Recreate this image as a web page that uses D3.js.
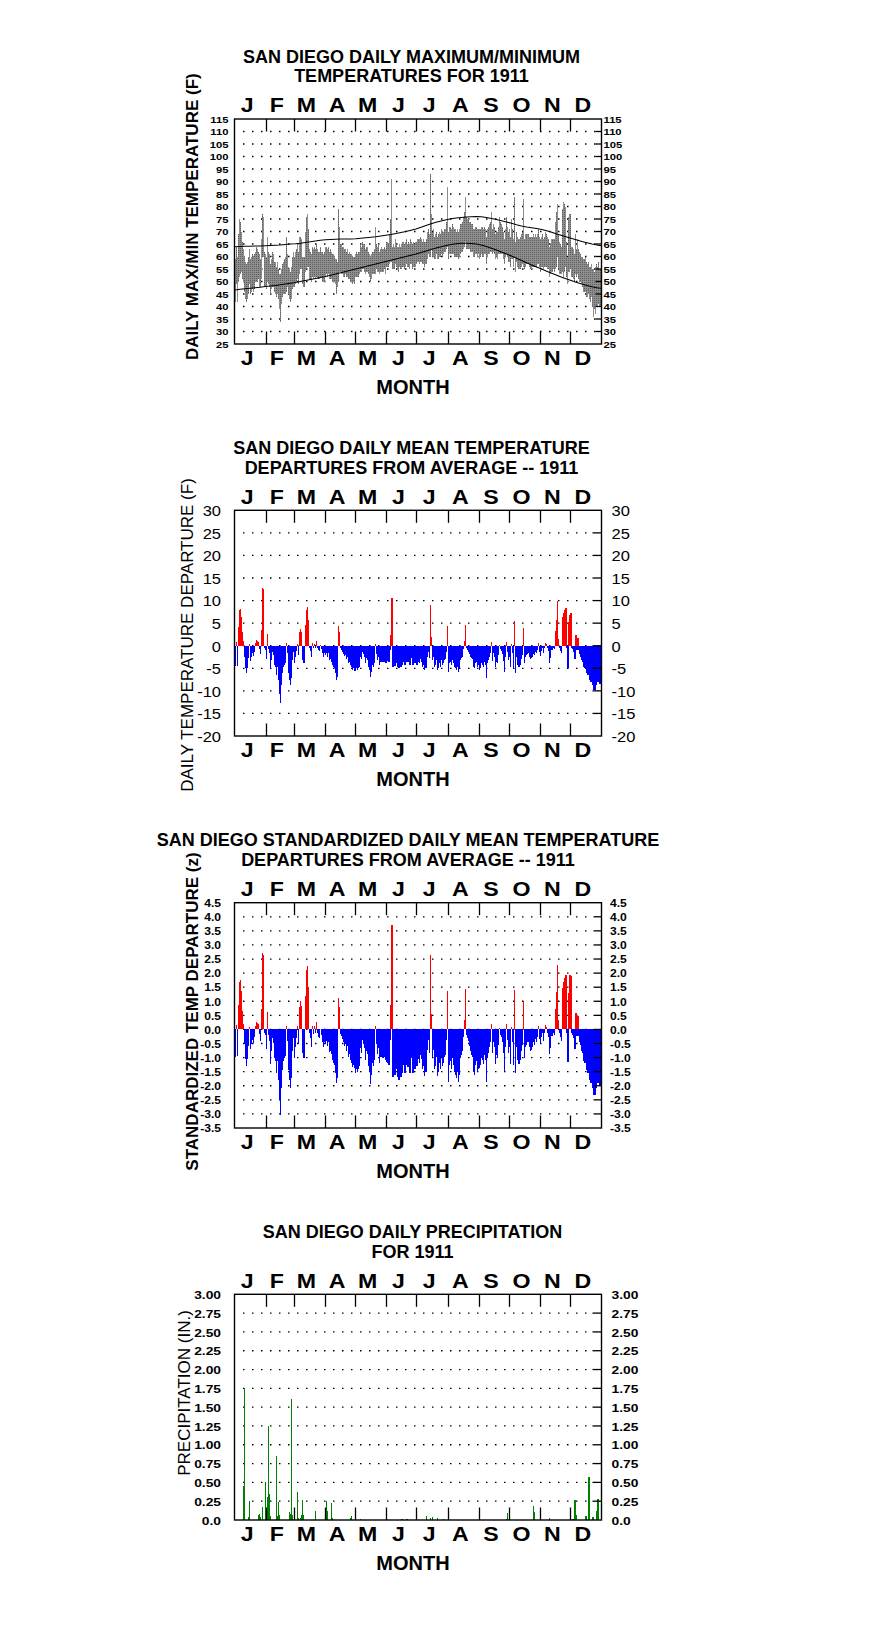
<!DOCTYPE html>
<html><head><meta charset="utf-8">
<script src="https://cdn.jsdelivr.net/npm/d3@7"></script>
<style>body{margin:0;background:#fff}svg{display:block}</style>
</head><body>
<svg id="c" width="876" height="1634"></svg>
<script>
// ---------------- DATA ----------------
const months = ["J","F","M","A","M","J","J","A","S","O","N","D"];
const monthLengths = [31,28,31,30,31,30,31,31,30,31,30,31];

// Daily max / min temperature (F), 1911
const tmax = [
59,64,60,69,75,74,70,66,63,60,58,57,58,60,63,59,60,61,60,61,62,64,63,62,61,59,67,77,76,62,61,
60,68,62,61,57,59,62,61,58,58,56,58,55,53,53,55,57,58,59,60,68,61,56,55,54,56,60,62,
60,62,63,65,62,68,68,67,60,60,60,70,76,77,71,63,62,61,64,63,64,63,65,63,62,62,64,62,62,61,62,
64,64,63,64,62,63,62,61,61,60,59,59,58,79,72,65,65,64,64,63,63,62,63,61,62,61,61,60,60,60,
61,62,61,62,62,65,64,66,65,65,63,64,64,62,61,60,61,62,62,63,72,65,64,65,62,63,64,63,63,64,63,
66,66,65,69,75,91,64,65,64,67,65,64,64,65,64,65,66,66,65,66,67,65,66,65,67,66,65,66,65,66,
66,67,67,68,67,66,67,66,66,67,70,71,69,93,77,70,71,68,69,70,68,69,70,69,71,70,70,71,71,74,88,
70,72,72,71,73,72,71,71,70,71,70,71,73,73,74,76,78,84,76,75,75,74,74,73,73,71,71,72,72,71,71,
71,71,72,72,71,72,71,68,71,72,73,74,78,71,73,72,69,70,70,72,76,74,73,72,70,67,71,76,72,70,
71,68,75,71,67,84,66,70,68,67,67,68,69,70,83,67,69,69,69,69,68,68,68,68,69,68,69,68,69,71,68,
67,68,69,67,68,70,69,68,67,64,65,67,67,67,67,74,78,81,69,66,65,64,79,82,81,80,66,60,76,77,
77,64,64,63,61,69,63,67,63,62,61,60,60,59,59,60,58,57,58,56,56,57,55,55,54,56,57,56,58,55,55];
const tmin = [
42,49,42,50,52,53,54,51,50,46,43,42,43,45,49,45,46,47,46,47,50,50,50,51,48,48,51,60,60,48,48,
47,50,49,48,45,47,48,48,46,45,44,45,43,39,34,41,44,45,45,45,46,48,45,43,42,43,47,48,
48,49,50,51,49,53,55,55,49,48,48,54,55,56,56,51,51,50,52,51,52,51,52,51,51,51,52,52,50,50,50,
52,53,52,53,51,51,51,50,50,50,49,45,48,50,54,54,53,53,52,52,53,52,52,51,51,50,50,49,50,49,
52,52,52,52,53,54,54,55,55,54,53,54,54,53,52,50,51,53,53,53,53,55,54,54,53,54,54,54,54,55,53,
56,56,56,57,58,58,55,55,55,57,56,55,54,56,55,55,56,56,55,56,57,56,56,55,57,57,55,56,56,56,
57,58,57,58,58,57,57,56,57,57,59,61,60,60,63,60,60,59,59,61,59,59,60,60,61,60,61,62,62,63,64,
59,61,61,61,61,61,60,60,60,60,59,60,61,62,62,63,64,66,63,63,63,63,62,62,62,60,60,61,61,60,61,
59,60,61,60,60,61,61,57,60,61,61,62,62,61,62,61,59,60,59,61,61,61,61,61,59,57,60,61,60,58,
58,56,59,59,56,60,54,58,56,55,55,55,56,57,56,55,56,57,57,57,56,55,55,56,56,56,56,56,57,57,56,
54,56,56,55,56,56,56,55,55,52,53,54,54,55,54,55,56,60,55,53,53,53,54,52,54,56,52,49,54,54,
55,52,52,51,50,53,52,53,51,50,50,49,48,46,46,46,44,44,45,43,42,44,40,36,39,37,40,40,41,40,40];

// Normal max / min (F), read every 5 days (last point = Dec 31)
const normMax = [63.9,64.0,64.1,64.1,64.2,64.2,64.3,64.4,64.5,64.6,64.8,65.0,65.1,65.3,65.6,65.9,66.2,66.5,66.7,66.8,
66.9,67.0,67.0,67.0,67.1,67.3,67.5,67.7,67.9,68.2,68.5,68.8,69.2,69.6,70.0,70.5,71.0,71.7,72.4,73.1,
73.7,74.2,74.7,75.1,75.4,75.6,75.8,75.9,76.0,75.9,75.6,75.2,74.8,74.3,73.8,73.3,72.7,72.2,71.8,71.5,
71.2,70.8,70.3,69.7,69.0,68.4,67.8,67.2,66.6,66.0,65.5,65.0,64.6,64.3];
const normMin = [46.6,46.9,47.1,47.3,47.5,47.7,48.0,48.2,48.4,48.7,49.0,49.3,49.6,50.0,50.4,50.8,51.2,51.6,52.0,52.5,
53.0,53.5,54.0,54.5,55.0,55.5,56.0,56.5,57.0,57.5,58.0,58.5,59.0,59.5,60.0,60.5,61.0,61.6,62.2,62.8,
63.4,63.9,64.4,64.8,65.1,65.3,65.3,65.2,65.0,64.6,64.0,63.3,62.6,61.8,61.0,60.2,59.3,58.4,57.5,56.6,
55.8,55.0,54.1,53.3,52.5,51.7,51.0,50.3,49.6,49.0,48.4,47.9,47.5,47.3];
const normDays = [0,5,10,15,20,25,30,35,40,45,50,55,60,65,70,75,80,85,90,95,100,105,110,115,120,125,130,135,140,145,
150,155,160,165,170,175,180,185,190,195,200,205,210,215,220,225,230,235,240,245,250,255,260,265,270,275,280,285,290,295,
300,305,310,315,320,325,330,335,340,345,350,355,360,364];

// Daily mean temperature departure (F)
const depF = [
-4.6,0.8,-4.4,4.1,7.9,8.2,6.4,3.0,1.0,-2.4,-5.0,-6.1,-5.0,-2.8,0.4,-3.3,-2.4,-1.7,-2.3,-1.3,0.5,1.3,1.1,0.9,-0.8,-1.9,3.5,12.8,12.5,-0.6,-1.0,
-3.0,2.6,-0.8,-1.7,-5.2,-3.2,-1.3,-2.0,-4.3,-4.7,-6.5,-4.7,-7.6,-10.6,-12.8,-8.7,-6.1,-4.7,-4.3,-3.9,0.5,-1.7,-6.1,-7.6,-8.7,-7.2,-3.2,-1.3,
-3.9,-2.4,-1.1,0.4,-2.0,3.0,3.8,3.1,-3.2,-3.8,-3.9,4.5,8.0,8.6,5.7,-0.5,-1.2,-2.4,0.5,-0.6,0.4,-0.5,1.0,-0.5,-1.0,-1.2,0.1,-0.8,-1.7,-2.4,-1.7,
-2.1,-1.6,-2.4,-1.7,-3.2,-3.0,-3.5,-4.3,-4.7,-5.0,-6.1,-7.6,-6.9,4.4,3.1,-0.6,-1.0,-1.3,-1.8,-2.3,-2.1,-3.0,-2.4,-3.9,-3.5,-4.3,-4.7,-5.4,-5.0,-5.5,
-5.6,-5.0,-5.4,-5.0,-4.7,-2.4,-3.0,-1.3,-1.8,-2.4,-3.9,-2.8,-3.2,-4.7,-5.4,-6.9,-5.8,-4.3,-4.7,-3.9,0.4,-1.8,-3.2,-2.4,-4.3,-3.5,-3.2,-3.7,-3.5,-2.8,-3.9,
-3.2,-3.3,-3.5,-1.0,2.4,10.5,-4.7,-4.3,-4.5,-2.4,-3.9,-4.7,-5.0,-3.9,-4.7,-4.3,-3.5,-3.2,-4.3,-3.5,-2.4,-3.7,-3.2,-4.3,-2.4,-2.8,-4.3,-3.2,-3.9,-3.2,
-4.3,-3.5,-3.9,-3.0,-3.5,-4.7,-4.3,-5.4,-5.0,-5.0,-2.4,-1.3,-2.8,9.0,2.0,-3.2,-2.4,-4.7,-4.3,-3.2,-5.4,-5.0,-3.9,-4.7,-3.2,-4.3,-3.9,-3.2,-3.0,-1.3,4.4,
-5.8,-3.9,-3.5,-4.3,-3.2,-3.9,-4.7,-5.0,-5.4,-4.7,-5.8,-5.0,-3.2,-2.8,-2.4,-0.8,1.0,4.6,-0.6,-1.0,-1.3,-1.8,-2.4,-2.8,-3.0,-4.7,-5.0,-3.9,-3.5,-4.7,-4.3,
-5.4,-5.0,-3.9,-4.3,-4.7,-3.5,-4.3,-7.2,-3.9,-3.2,-2.4,-1.7,0.8,-3.3,-1.7,-2.4,-4.7,-3.5,-3.9,-2.1,0.2,-0.8,-1.1,-1.8,-3.3,-5.8,-2.4,0.8,-1.5,-3.2,
-2.4,-4.7,0.4,-1.7,-4.9,5.5,-6.1,-2.4,-4.3,-4.7,-4.7,-4.3,-3.0,-2.1,3.9,-3.9,-2.4,-2.1,-1.8,-1.7,-2.4,-3.0,-2.8,-2.4,-1.8,-2.1,-1.3,-1.7,-1.0,0.5,-1.3,
-2.3,-1.1,-0.6,-1.7,-0.6,0.7,0.4,-0.6,-1.1,-3.8,-2.8,-1.0,-1.0,-0.6,-0.8,3.2,5.7,9.8,1.5,-0.6,-1.1,-1.7,6.3,7.2,7.9,8.4,-0.6,-5.0,5.3,6.8,
7.2,-0.6,-0.8,-1.3,-3.0,2.4,-1.0,1.8,-1.0,-1.8,-2.4,-3.2,-3.5,-4.7,-5.0,-4.3,-6.1,-6.5,-5.4,-7.6,-8.0,-6.1,-8.7,-9.8,-9.8,-8.7,-7.6,-8.0,-6.9,-8.4,-8.2];

// Standardized daily mean temperature departure (z)
const depZ = [
-0.98,0.17,-0.94,0.87,1.68,1.74,1.36,0.64,0.21,-0.51,-1.06,-1.30,-1.06,-0.60,0.09,-0.70,-0.51,-0.36,-0.49,-0.28,0.11,0.28,0.23,0.19,-0.17,-0.40,0.74,2.72,2.66,-0.13,-0.21,
-0.71,0.62,-0.19,-0.40,-1.24,-0.76,-0.31,-0.48,-1.02,-1.12,-1.55,-1.12,-1.81,-2.52,-3.05,-2.07,-1.45,-1.12,-1.02,-0.93,0.12,-0.40,-1.45,-1.81,-2.07,-1.71,-0.76,-0.31,
-1.03,-0.63,-0.29,0.11,-0.53,0.79,1.00,0.82,-0.84,-1.00,-1.03,1.18,2.10,2.26,1.50,-0.13,-0.32,-0.63,0.13,-0.16,0.11,-0.13,0.26,-0.13,-0.26,-0.32,0.03,-0.21,-0.45,-0.63,-0.45,
-0.53,-0.40,-0.60,-0.43,-0.80,-0.75,-0.88,-1.08,-1.18,-1.25,-1.53,-1.90,-1.73,1.10,0.78,-0.15,-0.25,-0.33,-0.45,-0.58,-0.53,-0.75,-0.60,-0.98,-0.88,-1.08,-1.18,-1.35,-1.25,-1.38,
-1.56,-1.39,-1.50,-1.39,-1.31,-0.67,-0.83,-0.36,-0.50,-0.67,-1.08,-0.78,-0.89,-1.31,-1.50,-1.92,-1.61,-1.19,-1.31,-1.08,0.11,-0.50,-0.89,-0.67,-1.19,-0.97,-0.89,-1.03,-0.97,-0.78,-1.08,
-1.14,-1.18,-1.25,-0.36,0.86,3.72,-1.68,-1.54,-1.61,-0.86,-1.39,-1.68,-1.79,-1.39,-1.68,-1.54,-1.25,-1.14,-1.54,-1.25,-0.86,-1.32,-1.14,-1.54,-0.86,-1.00,-1.54,-1.14,-1.39,-1.14,
-1.30,-1.06,-1.18,-0.91,-1.06,-1.42,-1.30,-1.64,-1.52,-1.52,-0.73,-0.39,-0.85,2.65,0.55,-0.97,-0.73,-1.42,-1.30,-0.97,-1.64,-1.52,-1.18,-1.42,-0.97,-1.30,-1.18,-0.97,-0.91,-0.39,1.38,
-1.87,-1.26,-1.13,-1.39,-1.03,-1.26,-1.52,-1.61,-1.74,-1.52,-1.87,-1.61,-1.03,-0.90,-0.77,-0.26,0.32,1.45,-0.19,-0.32,-0.42,-0.58,-0.77,-0.90,-0.97,-1.52,-1.61,-1.26,-1.13,-1.52,-1.39,
-1.38,-1.28,-1.00,-1.10,-1.21,-0.90,-1.10,-1.85,-1.00,-0.82,-0.62,-0.44,0.21,-0.85,-0.44,-0.62,-1.21,-0.90,-1.00,-0.54,0.05,-0.21,-0.28,-0.46,-0.85,-1.49,-0.62,0.21,-0.38,-0.82,
-0.62,-1.21,0.10,-0.44,-1.26,1.41,-1.56,-0.62,-1.10,-1.21,-1.21,-1.10,-0.77,-0.54,1.00,-1.00,-0.62,-0.54,-0.46,-0.44,-0.62,-0.77,-0.72,-0.62,-0.46,-0.54,-0.33,-0.44,-0.26,0.13,-0.33,
-0.53,-0.26,-0.14,-0.40,-0.14,0.16,0.09,-0.14,-0.26,-0.88,-0.65,-0.23,-0.23,-0.14,-0.19,0.74,1.33,2.28,0.35,-0.14,-0.26,-0.40,1.47,1.67,1.84,1.95,-0.14,-1.16,1.30,1.92,
1.90,-0.14,-0.19,-0.31,-0.71,0.57,-0.24,0.48,-0.24,-0.43,-0.57,-0.76,-0.83,-1.12,-1.19,-1.02,-1.45,-1.55,-1.29,-1.81,-1.90,-1.45,-2.07,-2.33,-2.33,-2.07,-1.81,-1.90,-1.64,-2.00,-1.95];

// Daily precipitation (in.), days with measurable rain (day index 0 = Jan 1)
const precipDay = [8,9,13,14,23,24,25,27,30,32,33,34,35,41,42,43,44,54,55,56,57,62,63,65,66,67,68,80,91,92,96,97,115,116,125,166,171,
190,194,196,201,207,270,271,297,298,313,336,337,338,339,349,352,356,360,361];
const precipIn = [0.45,1.76,0.04,0.25,0.07,0.08,0.04,0.17,0.50,0.31,1.25,0.35,0.05,0.85,0.05,0.24,0.06,0.10,0.08,1.61,0.07,0.37,0.02,0.03,0.07,0.27,0.07,0.12,0.25,0.12,0.23,0.02,0.02,0.05,0.01,0.01,0.01,
0.05,0.02,0.04,0.03,0.01,0.01,0.09,0.19,0.11,0.03,0.01,0.01,0.27,0.07,0.05,0.57,0.04,0.12,0.28];

// Tick values
const ticksTemp = [25,30,35,40,45,50,55,60,65,70,75,80,85,90,95,100,105,110,115];
const ticksDep = [-20,-15,-10,-5,0,5,10,15,20,25,30];
const ticksZ = [-3.5,-3.0,-2.5,-2.0,-1.5,-1.0,-0.5,0.0,0.5,1.0,1.5,2.0,2.5,3.0,3.5,4.0,4.5];
const ticksPrcp = [0,0.25,0.5,0.75,1.0,1.25,1.5,1.75,2.0,2.25,2.5,2.75,3.0];

// ---------------- DRAWING ----------------
const FONT = "Arial, 'Liberation Sans', Helvetica, sans-serif";
const svg = d3.select("#c");
svg.append("rect").attr("width",876).attr("height",1634).attr("fill","#fff");
const defs = svg.append("defs");
const pat = defs.append("pattern").attr("id","stip").attr("patternUnits","userSpaceOnUse")
  .attr("width",2).attr("height",2);
pat.append("rect").attr("width",2).attr("height",2).attr("fill","#8e8e8e");
pat.append("rect").attr("width",1).attr("height",1).attr("fill","#5e5e5e");

const L = 234.5, R = 601.5;
const x = d3.scaleLinear().domain([0,365]).range([L,R]);
const monthStartArr = Array.from(d3.cumsum([0].concat(monthLengths.slice(0,11))));
const monthCenters = monthStartArr.map((s,i)=> s + monthLengths[i]/2);
const hy = s => s.replace(/\u2212/g,"-");

function panel(cfg){
  const g = svg.append("g");
  const y = d3.scaleLinear().domain(cfg.domain).range([cfg.bottom, cfg.top]);
  const inner = cfg.ticks.filter(v => v > cfg.domain[0] && v < cfg.domain[1]);
  g.append("g").selectAll("line").data(inner).join("line")
    .attr("x1", L+8.5).attr("x2", R-cfg.rtick).attr("y1", d=>y(d)).attr("y2", d=>y(d))
    .attr("stroke","#000").attr("stroke-width",1.3).attr("stroke-dasharray","1.5,7.5");
  const marks = g.append("g");
  const over = g.append("g");
  over.append("rect").attr("x",L).attr("y",cfg.top).attr("width",R-L).attr("height",cfg.bottom-cfg.top)
    .attr("fill","none").attr("stroke","#000").attr("stroke-width",1.4);
  const mt = monthStartArr.slice(1);
  over.append("g").selectAll("line").data(mt).join("line")
    .attr("x1",d=>Math.round(x(d))+0.5).attr("x2",d=>Math.round(x(d))+0.5)
    .attr("y1",cfg.top).attr("y2",cfg.top+12.5).attr("stroke","#000").attr("stroke-width",1.3);
  over.append("g").selectAll("line").data(mt).join("line")
    .attr("x1",d=>Math.round(x(d))+0.5).attr("x2",d=>Math.round(x(d))+0.5)
    .attr("y1",cfg.bottom-12.5).attr("y2",cfg.bottom).attr("stroke","#000").attr("stroke-width",1.3);
  over.append("g").selectAll("line").data(inner).join("line")
    .attr("x1",R-cfg.rtick).attr("x2",R).attr("y1",d=>y(d)).attr("y2",d=>y(d))
    .attr("stroke","#000").attr("stroke-width",1.3);
  const styleLab = (sel, anchor) => {
    sel.select(".domain").remove();
    sel.selectAll(".tick line").remove();
    sel.attr("font-family",null).attr("font-size",null);
    sel.selectAll("text").attr("x",0).attr("dy","0.36em")
      .attr("text-anchor",anchor)
      .attr("transform",`scale(${cfg.sx},1)`)
      .style("font-family",FONT).style("font-size",cfg.lab+"px")
      .style("font-weight",cfg.labBold?"bold":"normal").attr("fill","#000");
  };
  const axL = d3.axisLeft(y).tickValues(cfg.ticks).tickFormat(cfg.fmt).tickSize(0).tickPadding(0);
  over.append("g").attr("transform",`translate(${cfg.leftX},0)`).call(axL).call(s=>styleLab(s,"end"));
  const axR = d3.axisRight(y).tickValues(cfg.ticks).tickFormat(cfg.fmt).tickSize(0).tickPadding(0);
  over.append("g").attr("transform",`translate(${cfg.rightX},0)`).call(axR).call(s=>styleLab(s,"start"));
  const mx = d3.scaleLinear().domain([0,365]).range([L-3.5,R-3.5]);
  const styleMon = sel => {
    sel.select(".domain").remove();
    sel.selectAll(".tick line").remove();
    sel.attr("font-family",null).attr("font-size",null);
    sel.selectAll("text").attr("y",0).attr("dy",null).attr("transform","scale(1.13,1)")
      .style("font-family",FONT).style("font-size","20.5px").style("font-weight","bold").attr("fill","#000");
  };
  const axM = d3.axisTop(mx).tickValues(monthCenters).tickFormat((d,i)=>months[i]).tickSize(0).tickPadding(0);
  over.append("g").attr("transform",`translate(0,${cfg.top-6.8})`).call(axM).call(styleMon);
  over.append("g").attr("transform",`translate(0,${cfg.bottom+21.3})`).call(axM).call(styleMon);
  over.append("text").attr("x",413).attr("y",cfg.bottom+49.5).attr("text-anchor","middle")
    .style("font-family",FONT).style("font-size","20px").style("font-weight","bold").text("MONTH");
  cfg.title.forEach((t,i)=>{
    over.append("text").attr("x",cfg.titleX).attr("y",cfg.top-56.5+i*19.8).attr("text-anchor","middle")
      .style("font-family",FONT).style("font-size","18px").style("font-weight","bold").text(t);
  });
  over.append("text").attr("transform",`translate(${cfg.ytX},${cfg.ytY}) rotate(-90)`)
    .attr("text-anchor","middle").style("font-family",FONT).style("font-size","17px")
    .style("font-weight",cfg.ytBold?"bold":"normal").text(cfg.ytitle);
  return {marks, y};
}

// Panel 1: max/min temperatures
{
  const p = panel({top:119, bottom:344, domain:[25,115], ticks:ticksTemp, fmt:d=>String(d),
    rtick:6, leftX:228.5, rightX:603.5, lab:9, sx:1.25, labBold:true,
    title:["SAN DIEGO DAILY MAXIMUM/MINIMUM","TEMPERATURES FOR 1911"], titleX:411.5,
    ytitle:"DAILY MAX/MIN TEMPERATURE (F)", ytX:198.3, ytY:216.7, ytBold:true});
  const y = p.y;
  p.marks.append("g").attr("shape-rendering","crispEdges").selectAll("rect").data(tmax).join("rect")
    .attr("x",(d,i)=>x(i)).attr("width",(d,i)=>x(i+1)-x(i))
    .attr("y",(d,i)=>y(d)).attr("height",(d,i)=>Math.max(1,y(tmin[i])-y(d)))
    .attr("fill","url(#stip)");
  const pts = (arr)=> arr.map((v,i)=>[x(normDays[i]+0.5), y(v)]);
  const line = d3.line();
  p.marks.append("path").attr("d",line(pts(normMax))).attr("fill","none").attr("stroke","#000").attr("stroke-width",1.1);
  p.marks.append("path").attr("d",line(pts(normMin))).attr("fill","none").attr("stroke","#000").attr("stroke-width",1.1);
}

// Panel 2: departures (F)
{
  const p = panel({top:510.3, bottom:736, domain:[-20,30], ticks:ticksDep, fmt:d=>hy(String(d)),
    rtick:9, leftX:221, rightX:611.5, lab:15, sx:1.1, labBold:false,
    title:["SAN DIEGO DAILY MEAN TEMPERATURE","DEPARTURES FROM AVERAGE -- 1911"], titleX:411.5,
    ytitle:"DAILY TEMPERATURE DEPARTURE (F)", ytX:193.3, ytY:635, ytBold:false});
  const y = p.y;
  p.marks.append("g").attr("shape-rendering","crispEdges").selectAll("rect").data(depF).join("rect")
    .attr("x",(d,i)=>x(i)).attr("width",(d,i)=>x(i+1)-x(i)+0.2)
    .attr("y",d=>Math.min(y(d),y(0))).attr("height",d=>Math.abs(y(d)-y(0)))
    .attr("fill",d=>d>=0?"#ff0000":"#0000ff");
}

// Panel 3: standardized departures
{
  const p = panel({top:902.7, bottom:1128, domain:[-3.5,4.5], ticks:ticksZ, fmt:d=>hy(d.toFixed(1)),
    rtick:8, leftX:221, rightX:610, lab:10.5, sx:1.15, labBold:true,
    title:["SAN DIEGO STANDARDIZED DAILY MEAN TEMPERATURE","DEPARTURES FROM AVERAGE -- 1911"], titleX:408,
    ytitle:"STANDARDIZED TEMP DEPARTURE (z)", ytX:198.3, ytY:1011.5, ytBold:true});
  const y = p.y;
  p.marks.append("g").attr("shape-rendering","crispEdges").selectAll("rect").data(depZ).join("rect")
    .attr("x",(d,i)=>x(i)).attr("width",(d,i)=>x(i+1)-x(i)+0.2)
    .attr("y",d=>Math.min(y(d),y(0))).attr("height",d=>Math.abs(y(d)-y(0)))
    .attr("fill",d=>d>=0?"#ff0000":"#0000ff");
}

// Panel 4: precipitation
{
  const p = panel({top:1294.3, bottom:1520, domain:[0,3], ticks:ticksPrcp,
    fmt:d=> d===0 ? "0.0" : d.toFixed(2),
    rtick:9, leftX:221, rightX:611.5, lab:11.5, sx:1.2, labBold:true,
    title:["SAN DIEGO DAILY PRECIPITATION","FOR 1911"], titleX:412.5,
    ytitle:"PRECIPITATION (IN.)", ytX:189.7, ytY:1393, ytBold:false});
  const y = p.y;
  p.marks.append("g").attr("shape-rendering","crispEdges").selectAll("rect").data(precipIn).join("rect")
    .attr("x",(d,i)=>x(precipDay[i]+0.5)-0.5).attr("width",1.2)
    .attr("y",d=>y(d)).attr("height",d=>Math.max(1,y(0)-y(d)))
    .attr("fill","#008000");
}
</script>
</body></html>
